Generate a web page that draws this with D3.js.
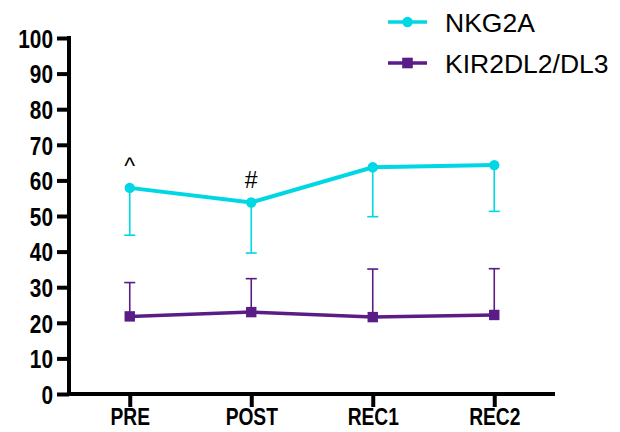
<!DOCTYPE html>
<html>
<head>
<meta charset="utf-8">
<script src="https://cdn.jsdelivr.net/npm/d3@7"></script>
<style>
  body { margin: 0; background: #fff; }
  svg { display: block; }
</style>
</head>
<body>
<svg id="chart" width="620" height="432"></svg>
<script>
// Time points
const categories = ["PRE", "POST", "REC1", "REC2"];
// Mean percentages and one-sided error bar ends
const nkg2aMean = [57.9, 53.8, 63.7, 64.3];
const nkg2aLow = [44.6, 39.6, 49.8, 51.3];
const kirMean = [21.8, 23.0, 21.6, 22.2];
const kirHigh = [31.3, 32.4, 35.1, 35.2];
// Significance marks above NKG2A points
const marks = ["^", "#", "", ""];
const yTicks = [0, 10, 20, 30, 40, 50, 60, 70, 80, 90, 100];

const cyan = "#00D7E5";
const purple = "#5A1C86";
const font = "Arial, 'Liberation Sans', sans-serif";
const squeeze = 0.8; // narrow bold axis lettering

const svg = d3.select("#chart");
const plotLeft = 69, plotRight = 555, plotTop = 38, plotBottom = 394;

const x = d3.scalePoint().domain(categories).range([plotLeft, plotRight]).padding(0.5);
const y = d3.scaleLinear().domain([0, 100]).range([plotBottom, plotTop]);

// Y axis
const yAxis = svg.append("g").attr("transform", `translate(${plotLeft},0)`)
  .call(d3.axisLeft(y).tickValues(yTicks).tickSize(12).tickSizeOuter(0));
yAxis.select(".domain").attr("d", `M0,${plotTop - 2}V${plotBottom}`)
  .attr("stroke", "#000").attr("stroke-width", 4);
yAxis.selectAll(".tick line").attr("stroke", "#000").attr("stroke-width", 4);
yAxis.selectAll(".tick text")
  .attr("x", -16 / squeeze).attr("dy", "0.36em")
  .attr("transform", `scale(${squeeze},1)`)
  .style("font-family", font)
  .style("font-weight", "bold").style("font-size", "26px").attr("fill", "#000");

// X axis
const xAxis = svg.append("g").attr("transform", `translate(0,${plotBottom})`)
  .call(d3.axisBottom(x).tickSize(13).tickSizeOuter(0));
xAxis.select(".domain").attr("d", `M${plotLeft - 2},0H${plotRight}`)
  .attr("stroke", "#000").attr("stroke-width", 4);
xAxis.selectAll(".tick line").attr("stroke", "#000").attr("stroke-width", 4);
xAxis.selectAll(".tick text")
  .attr("y", 31).attr("dy", 0)
  .attr("transform", `scale(${squeeze},1)`)
  .style("font-family", font)
  .style("font-weight", "bold").style("font-size", "24px").attr("fill", "#000");

// Error bars
function errorBars(means, ends, color) {
  const g = svg.append("g");
  categories.forEach((c, i) => {
    g.append("line")
      .attr("x1", x(c)).attr("x2", x(c))
      .attr("y1", y(means[i])).attr("y2", y(ends[i]))
      .attr("stroke", color).attr("stroke-width", 1.6);
    g.append("line")
      .attr("x1", x(c) - 5.5).attr("x2", x(c) + 5.5)
      .attr("y1", y(ends[i])).attr("y2", y(ends[i]))
      .attr("stroke", color).attr("stroke-width", 1.6);
  });
}
errorBars(nkg2aMean, nkg2aLow, cyan);
errorBars(kirMean, kirHigh, purple);

const line = d3.line().x((d, i) => x(categories[i])).y(d => y(d));

// NKG2A series
svg.append("path").datum(nkg2aMean).attr("d", line)
  .attr("fill", "none").attr("stroke", cyan).attr("stroke-width", 4);
svg.append("g").selectAll("circle").data(nkg2aMean).join("circle")
  .attr("cx", (d, i) => x(categories[i])).attr("cy", d => y(d))
  .attr("r", 5.2).attr("fill", cyan);

// KIR2DL2/DL3 series
svg.append("path").datum(kirMean).attr("d", line)
  .attr("fill", "none").attr("stroke", purple).attr("stroke-width", 3.5);
svg.append("g").selectAll("rect").data(kirMean).join("rect")
  .attr("x", (d, i) => x(categories[i]) - 5.2).attr("y", d => y(d) - 5.2)
  .attr("width", 10.4).attr("height", 10.4).attr("fill", purple);

// Significance marks
svg.append("g").selectAll("text").data(marks).join("text")
  .attr("x", (d, i) => x(categories[i]))
  .attr("y", (d, i) => y(nkg2aMean[i]) - 14)
  .attr("text-anchor", "middle")
  .style("font-family", font)
  .style("font-size", "23px").attr("fill", "#000")
  .text(d => d);

// Legend
const legend = [
  { name: "NKG2A", color: cyan, shape: "circle", yPos: 22 },
  { name: "KIR2DL2/DL3", color: purple, shape: "square", yPos: 63 }
];
const lg = svg.append("g");
legend.forEach(l => {
  lg.append("line").attr("x1", 388).attr("x2", 427)
    .attr("y1", l.yPos).attr("y2", l.yPos)
    .attr("stroke", l.color).attr("stroke-width", 3.5);
  if (l.shape === "circle") {
    lg.append("circle").attr("cx", 407.5).attr("cy", l.yPos).attr("r", 5.2).attr("fill", l.color);
  } else {
    lg.append("rect").attr("x", 402.2).attr("y", l.yPos - 5.3)
      .attr("width", 10.6).attr("height", 10.6).attr("fill", l.color);
  }
  lg.append("text").attr("x", 445).attr("y", l.yPos).attr("dy", "0.36em")
    .style("font-family", font)
    .style("font-size", "26.5px").attr("fill", "#000")
    .text(l.name);
});
</script>
</body>
</html>
